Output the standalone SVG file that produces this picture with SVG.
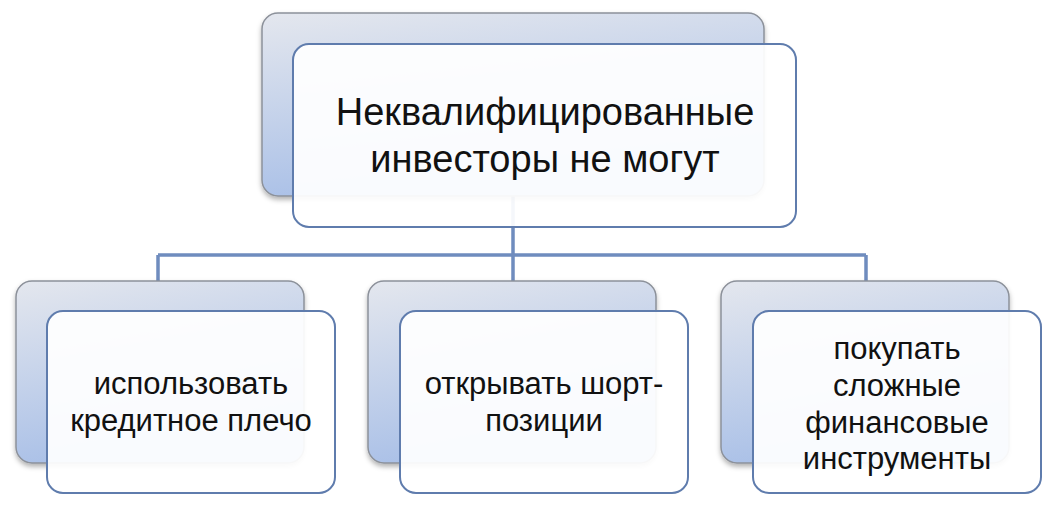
<svg xmlns="http://www.w3.org/2000/svg" width="1051" height="506" viewBox="0 0 1051 506">
<style>
.back{fill:url(#g);stroke:#8c919a;stroke-width:1.5}
.front{fill:#fff;fill-opacity:0.93;stroke:#5f7cad;stroke-width:2}
.c{fill:none;stroke:#6f8cbe;stroke-width:3.5}
text{font-family:"Liberation Sans",Arial,sans-serif;fill:#111;text-anchor:middle}
.t{font-size:38px}.s{font-size:31px}
</style>
<defs>
<linearGradient id="g" x1="0" y1="0" x2="0.3" y2="1">
<stop offset="0" stop-color="#e4e7ee"/><stop offset="1" stop-color="#a8bfe7"/>
</linearGradient>
<filter id="sh" x="-5%" y="-5%" width="110%" height="115%"><feDropShadow dx="0" dy="3" stdDeviation="2.5" flood-opacity="0.3"/></filter>
</defs>
<g id="connectors">
<path class="c" d="M513 196V255M158 255H866M158 255V282M513 255V282M866 255V282"/>
</g>
<g id="top">
<rect class="back" x="262" y="13" width="502" height="183" rx="16" filter="url(#sh)"/>
<rect class="front" x="293" y="44" width="503" height="183" rx="16"/>
<text class="t" x="545" y="125">Неквалифицированные</text>
<text class="t" x="545" y="172">инвесторы не могут</text>
</g>
<g id="n1">
<rect class="back" x="16" y="281" width="288" height="182" rx="16" filter="url(#sh)"/>
<rect class="front" x="47" y="311" width="288" height="182" rx="16"/>
<text class="s" x="191" y="394">использовать</text>
<text class="s" x="191" y="431">кредитное плечо</text>
</g>
<g id="n2">
<rect class="back" x="368" y="281" width="288" height="182" rx="16" filter="url(#sh)"/>
<rect class="front" x="400" y="311" width="288" height="182" rx="16"/>
<text class="s" x="544" y="394">открывать шорт-</text>
<text class="s" x="544" y="431">позиции</text>
</g>
<g id="n3">
<rect class="back" x="721" y="281" width="288" height="182" rx="16" filter="url(#sh)"/>
<rect class="front" x="753" y="311" width="288" height="182" rx="16"/>
<text class="s" x="897" y="359">покупать</text>
<text class="s" x="897" y="396">сложные</text>
<text class="s" x="897" y="433">финансовые</text>
<text class="s" x="897" y="469">инструменты</text>
</g>
</svg>
